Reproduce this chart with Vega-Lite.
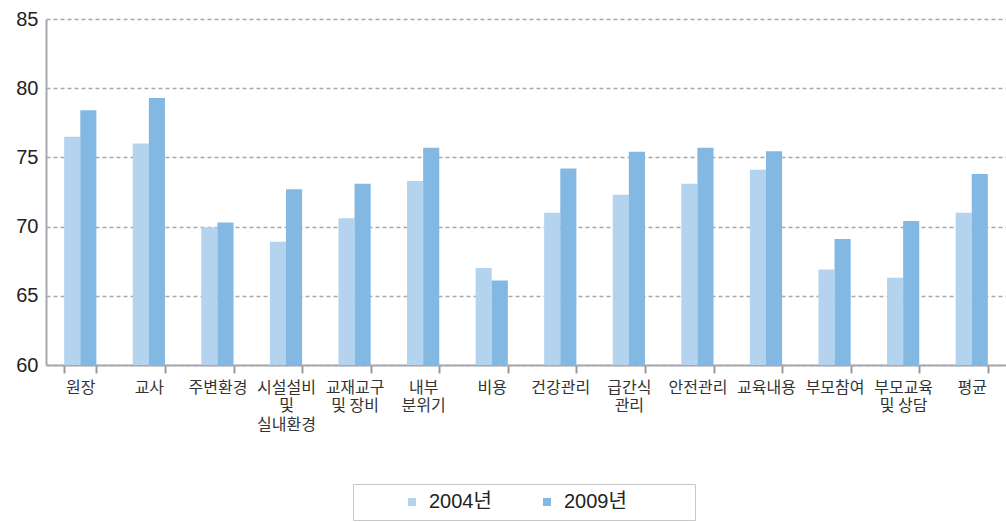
{
  "$schema": "https://vega.github.io/schema/vega-lite/v6.json",
  "autosize": "none",
  "width": 960,
  "height": 346,
  "padding": {"left": 46, "top": 19, "right": 0, "bottom": 157},
  "background": "white",
  "config": {"view": {"stroke": null}},
  "data": {
    "values": [
      {"cat": "원장", "year": "2004년", "v": 76.5},
      {"cat": "원장", "year": "2009년", "v": 78.4},
      {"cat": "교사", "year": "2004년", "v": 76.0},
      {"cat": "교사", "year": "2009년", "v": 79.3},
      {"cat": "주변환경", "year": "2004년", "v": 69.95},
      {"cat": "주변환경", "year": "2009년", "v": 70.3},
      {"cat": "시설설비|및|실내환경", "year": "2004년", "v": 68.9},
      {"cat": "시설설비|및|실내환경", "year": "2009년", "v": 72.7},
      {"cat": "교재교구|및 장비", "year": "2004년", "v": 70.6},
      {"cat": "교재교구|및 장비", "year": "2009년", "v": 73.1},
      {"cat": "내부|분위기", "year": "2004년", "v": 73.3},
      {"cat": "내부|분위기", "year": "2009년", "v": 75.7},
      {"cat": "비용", "year": "2004년", "v": 67.0},
      {"cat": "비용", "year": "2009년", "v": 66.1},
      {"cat": "건강관리", "year": "2004년", "v": 71.0},
      {"cat": "건강관리", "year": "2009년", "v": 74.2},
      {"cat": "급간식|관리", "year": "2004년", "v": 72.3},
      {"cat": "급간식|관리", "year": "2009년", "v": 75.4},
      {"cat": "안전관리", "year": "2004년", "v": 73.1},
      {"cat": "안전관리", "year": "2009년", "v": 75.7},
      {"cat": "교육내용", "year": "2004년", "v": 74.1},
      {"cat": "교육내용", "year": "2009년", "v": 75.45},
      {"cat": "부모참여", "year": "2004년", "v": 66.9},
      {"cat": "부모참여", "year": "2009년", "v": 69.1},
      {"cat": "부모교육|및 상담", "year": "2004년", "v": 66.3},
      {"cat": "부모교육|및 상담", "year": "2009년", "v": 70.4},
      {"cat": "평균", "year": "2004년", "v": 71.0},
      {"cat": "평균", "year": "2009년", "v": 73.8}
    ]
  },
  "mark": {"type": "bar", "clip": true},
  "encoding": {
    "x": {
      "field": "cat",
      "type": "nominal",
      "sort": null,
      "scale": {"paddingInner": 0.53, "paddingOuter": 0.265},
      "axis": {
        "title": null,
        "labelAngle": 0,
        "labelExpr": "split(datum.label, '|')",
        "labelFont": "Noto Sans CJK KR",
        "labelFontSize": 16,
        "labelColor": "#333333",
        "labelLineHeight": 18.5,
        "labelPadding": 6,
        "labelBaseline": "top",
        "tickBand": "extent",
        "tickSize": 8,
        "tickWidth": 2,
        "tickColor": "#9a9a9a",
        "domainColor": "#a8a8b0",
        "domainWidth": 2,
        "grid": false
      }
    },
    "xOffset": {"field": "year", "type": "nominal", "scale": {"paddingInner": 0, "paddingOuter": 0}},
    "y": {
      "field": "v",
      "type": "quantitative",
      "scale": {"domain": [60, 85], "nice": false, "zero": false},
      "axis": {
        "title": null,
        "values": [60, 65, 70, 75, 80, 85],
        "ticks": false,
        "labelFont": "Liberation Sans",
        "labelFontSize": 20,
        "labelColor": "#222222",
        "labelPadding": 8,
        "domainColor": "#a8a8b0",
        "domainWidth": 2,
        "grid": true,
        "gridColor": "#a8a8a8",
        "gridDash": [4, 3],
        "gridWidth": 1.5
      }
    },
    "color": {
      "field": "year",
      "type": "nominal",
      "scale": {"domain": ["2004년", "2009년"], "range": ["#b4d3ee", "#83b8e3"]},
      "legend": {
        "title": null,
        "orient": "none",
        "direction": "horizontal",
        "legendX": 307,
        "legendY": 465,
        "padding": 8,
        "strokeColor": "#c8c8c8",
        "symbolType": "square",
        "symbolSize": 64,
        "symbolStrokeWidth": 0,
        "symbolOffset": 41,
        "labelOffset": 7,
        "columnPadding": 4,
        "labelFont": "Liberation Sans, Noto Sans CJK KR",
        "labelFontSize": 20,
        "labelColor": "#222222",
        "labelLimit": 400,
        "labelExpr": "datum.label == '2009년' ? datum.label + '\u2800\u2800\u2800\u2800' : datum.label"
      }
    }
  }
}
